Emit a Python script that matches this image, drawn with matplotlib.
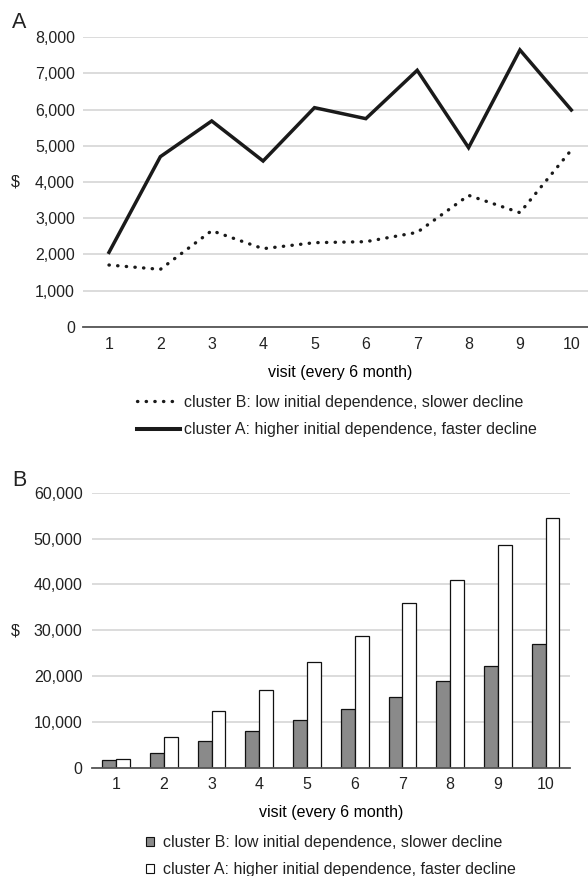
import numpy as np
import matplotlib
matplotlib.use("Agg")
import matplotlib.pyplot as plt
from matplotlib.patches import Patch
from matplotlib.lines import Line2D

plt.rcParams.update({"font.family": ["Liberation Sans", "DejaVu Sans"],
                     "font.size": 11.5, "text.color": "#222222",
                     "xtick.color": "#222222", "ytick.color": "#222222"})

visits = [1, 2, 3, 4, 5, 6, 7, 8, 9, 10]
label_b = "cluster B: low initial dependence, slower decline"
label_a = "cluster A: higher initial dependence, faster decline"

# panel A: cost per visit
cost_b = [1705, 1585, 2654, 2157, 2323, 2350, 2608, 3631, 3152, 4885]
cost_a = [2055, 4700, 5687, 4580, 6055, 5751, 7088, 4949, 7650, 5991]

# panel B: cumulative cost
cum_b = [1602, 3277, 5900, 8084, 10415, 12745, 15367, 19009, 22214, 27094]
cum_a = [1966, 6700, 12454, 16970, 23088, 28842, 35906, 40859, 48507, 54552]

W, H = 588, 876
fig = plt.figure(figsize=(W / 100, H / 100), dpi=100)

GRID = "#d9d9d9"
AXC = "#555555"


def style(ax, ymax, step, pad_y, pad_x):
    ax.set_ylim(0, ymax)
    ax.set_yticks(np.arange(0, ymax + 1, step))
    ax.yaxis.set_major_formatter(matplotlib.ticker.FuncFormatter(lambda v, p: f"{int(v):,}"))
    ax.set_xlim(0.5, 10.5)
    ax.set_xticks(visits)
    for s in ["top", "right", "left"]:
        ax.spines[s].set_visible(False)
    ax.spines["bottom"].set_color(AXC)
    ax.spines["bottom"].set_linewidth(1.3)
    ax.grid(axis="y", color=GRID, lw=1.3)
    ax.set_axisbelow(True)
    ax.tick_params(axis="both", length=0)
    ax.tick_params(axis="y", pad=pad_y)
    ax.tick_params(axis="x", pad=pad_x)
    ax.patch.set_alpha(0)


# ---------------- panel A ----------------
axA = fig.add_axes([83.3 / W, 1 - 326.7 / H, 513.7 / W, 289.4 / H])
style(axA, 8000, 1000, 6, 7.2)
axA.plot(visits, cost_b, color="#1a1a1a", lw=2.4, ls=(0, (0.1, 2.5)),
         dash_capstyle="round", solid_capstyle="round")
axA.plot(visits, cost_a, color="#1a1a1a", lw=2.5, solid_joinstyle="miter")
axA.set_xlabel("visit (every 6 month)", labelpad=9.3)

fig.text(12 / W, 1 - 22.5 / H, "A", fontsize=15.5, va="center", ha="left")
fig.text(15 / W, 1 - 182 / H, "$", va="center", ha="center")

hA = [Line2D([], [], color="#1a1a1a", lw=2.4, ls=(0, (0.1, 2.5)), dash_capstyle="round"),
      Line2D([], [], color="#1a1a1a", lw=2.9)]
fig.legend(hA, [label_b, label_a], loc="upper left",
           bbox_to_anchor=(137 / W, 1 - 395 / H), frameon=False,
           handlelength=2.7, handletextpad=0.25, labelspacing=0.77, borderpad=0,
           borderaxespad=0)

# ---------------- panel B ----------------
axB = fig.add_axes([92.3 / W, 1 - 767.7 / H, 477.2 / W, 275 / H])
style(axB, 60000, 10000, 7, 6.5)
bw = 0.29
x = np.array(visits)
axB.bar(x - bw / 2, cum_b, bw, color="#8a8a8a", edgecolor="#111111", linewidth=0.9)
axB.bar(x + bw / 2, cum_a, bw, color="white", edgecolor="#111111", linewidth=0.9)
axB.set_xlabel("visit (every 6 month)", labelpad=9.8)

fig.text(12 / W, 1 - 481 / H, "B", fontsize=15.5, va="center", ha="left")
fig.text(15 / W, 1 - 631 / H, "$", va="center", ha="center")

hB = [Patch(facecolor="#8a8a8a", edgecolor="#111111", linewidth=0.8),
      Patch(facecolor="white", edgecolor="#111111", linewidth=0.8)]
fig.legend(hB, [label_b, label_a], loc="upper left",
           bbox_to_anchor=(146 / W, 1 - 835 / H), frameon=False,
           handlelength=0.5, handleheight=0.5, handletextpad=0.58,
           labelspacing=0.77, borderpad=0, borderaxespad=0)

fig.savefig("out.png", dpi=100)
